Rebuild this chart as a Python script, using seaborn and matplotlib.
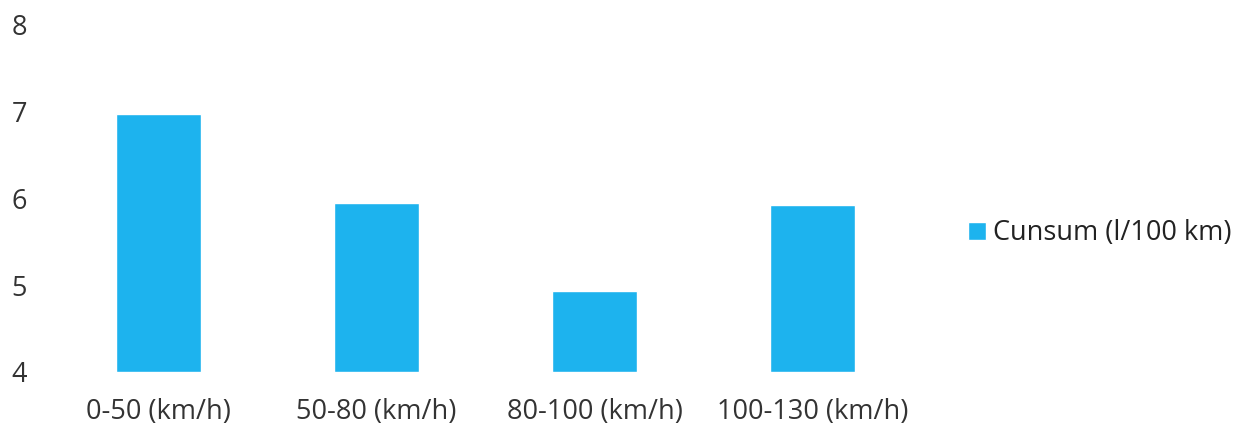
import matplotlib
matplotlib.use('Agg')
import matplotlib.pyplot as plt
import seaborn as sns
import pandas as pd

categories = ['0-50 (km/h)', '50-80 (km/h)', '80-100 (km/h)', '100-130 (km/h)']
consumption = [6.97, 5.95, 4.93, 5.92]
series_name = 'Cunsum (l/100 km)'
y_ticks = [4, 5, 6, 7, 8]

df = pd.DataFrame({'cat': categories, 'val': consumption, 'series': series_name})

sns.set_style('white')
plt.rcParams['font.family'] = ['Open Sans', 'DejaVu Sans']

fig = plt.figure(figsize=(12.41, 4.34), dpi=100)
ax = fig.add_axes([49 / 1241, 1 - 372 / 434, (922 - 49) / 1241, (372 - 25) / 434])

sns.barplot(data=df, x='cat', y='val', hue='series', palette=['#1DB3EE'],
            saturation=1, width=0.39, ax=ax)
# bars start at the axis floor (4)
for p in ax.patches:
    h = p.get_height()
    if h > 0:
        p.set_y(y_ticks[0])
        p.set_height(h - y_ticks[0])

ax.set_ylim(4, 8)
ax.set_yticks(y_ticks)
ax.set_xlabel('')
ax.set_ylabel('')
sns.despine(ax=ax, left=True, bottom=True)
ax.tick_params(axis='both', length=0, labelsize=19.5, colors='#333333')
ax.tick_params(axis='y', pad=16)
ax.tick_params(axis='x', pad=19)

ax.legend(loc='center left', bbox_to_anchor=(1.053, 0.40), frameon=False,
          fontsize=19.5, handlelength=0.65, handleheight=0.65, handletextpad=0.25,
          borderpad=0, borderaxespad=0, labelcolor='#222222')

plt.savefig('out.png', dpi=100)
